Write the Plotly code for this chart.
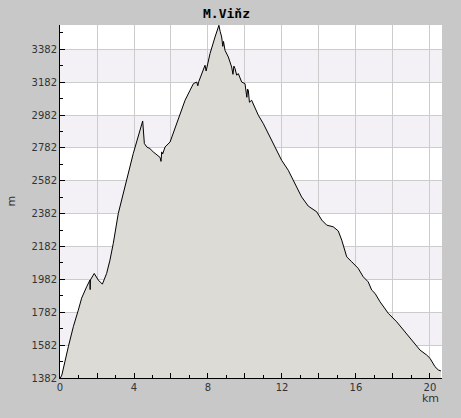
import plotly.graph_objects as go

title_text = "M.Viňz"
x_label = "km"
y_label = "m"

km = [0.00, 0.10, 0.45, 0.72, 0.99, 1.17, 1.44, 1.62, 1.63, 1.64, 1.85, 2.07, 2.29,
      2.52, 2.70, 2.88, 3.15, 3.51, 3.96, 4.47, 4.52, 4.56, 4.69, 4.86, 5.04, 5.41,
      5.46, 5.50, 5.55, 5.68, 5.95, 6.12, 6.39, 6.58, 6.76, 7.03, 7.21, 7.39, 7.45,
      7.50, 7.66, 7.84, 7.90, 7.93, 7.97, 8.11, 8.38, 8.59, 8.66, 8.74, 8.80, 8.84,
      8.92, 9.10, 9.28, 9.35, 9.40, 9.46, 9.55, 9.64, 9.82, 10.00, 10.10, 10.14,
      10.18, 10.24, 10.36, 10.54, 10.72, 10.99, 11.35, 11.53, 11.98, 12.34, 12.70,
      13.06, 13.42, 13.88, 14.15, 14.42, 14.77, 15.04, 15.23, 15.50, 15.77, 16.12,
      16.39, 16.66, 16.85, 17.03, 17.30, 17.75, 18.20, 18.56, 18.92, 19.19, 19.46,
      19.82, 20.00, 20.27, 20.45, 20.59]

elev = [1378, 1400, 1572, 1694, 1795, 1868, 1937, 1978, 1920, 1978, 2018, 1978, 1953,
        2018, 2099, 2201, 2383, 2545, 2748, 2946, 2830, 2809, 2788, 2778, 2758, 2724,
        2700, 2758, 2745, 2788, 2818, 2870, 2950, 3011, 3072, 3133, 3173, 3183, 3160,
        3185, 3234, 3285, 3250, 3266, 3300, 3356, 3457, 3528, 3490, 3457, 3400, 3430,
        3376, 3335, 3274, 3230, 3280, 3265, 3225, 3234, 3183, 3173, 3090, 3140,
        3133, 3060, 3072, 3031, 2981, 2930, 2849, 2809, 2707, 2646, 2566,
        2484, 2428, 2393, 2343, 2312, 2302, 2277, 2221, 2119, 2089, 2049,
        1998, 1967, 1917, 1897, 1846, 1775, 1724, 1674, 1623, 1583, 1552,
        1522, 1502, 1451, 1431, 1425]

y_ticks = [1382, 1582, 1782, 1982, 2182, 2382, 2582, 2782, 2982, 3182, 3382]
x_ticks = [0, 2, 4, 6, 8, 10, 12, 14, 16, 18, 20]
x_tick_text = ["0", "", "4", "", "8", "", "12", "", "16", "", "20"]
shaded_bands = [(1582, 1782), (1982, 2182), (2382, 2582), (2782, 2982), (3182, 3382)]

fig = go.Figure()
fig.add_trace(go.Scatter(
    x=km, y=elev, mode="lines", fill="tozeroy",
    line=dict(color="black", width=1),
    fillcolor="#dcdbd6", hoverinfo="skip", showlegend=False))

shapes = []
for lo, hi in shaded_bands:
    shapes.append(dict(type="rect", xref="paper", yref="y", x0=0, x1=1, y0=lo, y1=hi,
                       fillcolor="#f3f1f5", line=dict(width=0), layer="below"))

fig.update_layout(
    width=461, height=418,
    margin=dict(l=60, r=19, t=25, b=40),
    paper_bgcolor="#c8c8c8", plot_bgcolor="white",
    shapes=shapes,
    font=dict(family="DejaVu Sans", size=10, color="#333333"),
    annotations=[
        dict(text="<b>" + title_text + "</b>", xref="paper", yref="paper", x=0.435, y=1.0,
             yshift=12, showarrow=False, font=dict(family="DejaVu Sans Mono", size=13, color="black"),
             xanchor="center", yanchor="middle"),
        dict(text=x_label, xref="paper", yref="paper", x=1.0, y=0, xshift=-1, yshift=-12,
             xanchor="right", yanchor="top", showarrow=False,
             font=dict(family="DejaVu Sans", size=11, color="#333333")),
        dict(text=y_label, xref="paper", yref="paper", x=0, y=0.5, xshift=-49,
             textangle=-90, xanchor="center", yanchor="middle", showarrow=False,
             font=dict(family="DejaVu Sans", size=11, color="#333333")),
    ],
)
fig.update_xaxes(
    range=[0, 20.65], tickvals=x_ticks, ticktext=x_tick_text,
    ticks="inside", ticklen=5, tickcolor="black", tickwidth=1,
    showline=True, linecolor="black", linewidth=1, mirror=False,
    showgrid=True, gridcolor="#cccccc", gridwidth=1, zeroline=False,
    minor=dict(dtick=1, tick0=0, ticks="inside", ticklen=3, tickcolor="black", showgrid=False),
    fixedrange=True)
fig.update_yaxes(
    range=[1382, 3530], tickvals=y_ticks,
    ticks="inside", ticklen=5, tickcolor="black", tickwidth=1,
    showline=True, linecolor="black", linewidth=1, mirror=False,
    showgrid=True, gridcolor="#cccccc", gridwidth=1, zeroline=False,
    minor=dict(dtick=100, tick0=1382, ticks="inside", ticklen=3, tickcolor="black", showgrid=False),
    fixedrange=True)

fig.write_html("out.html", config=dict(displayModeBar=False),
               post_script="document.body.style.margin='0';document.body.style.background='#c8c8c8';")
